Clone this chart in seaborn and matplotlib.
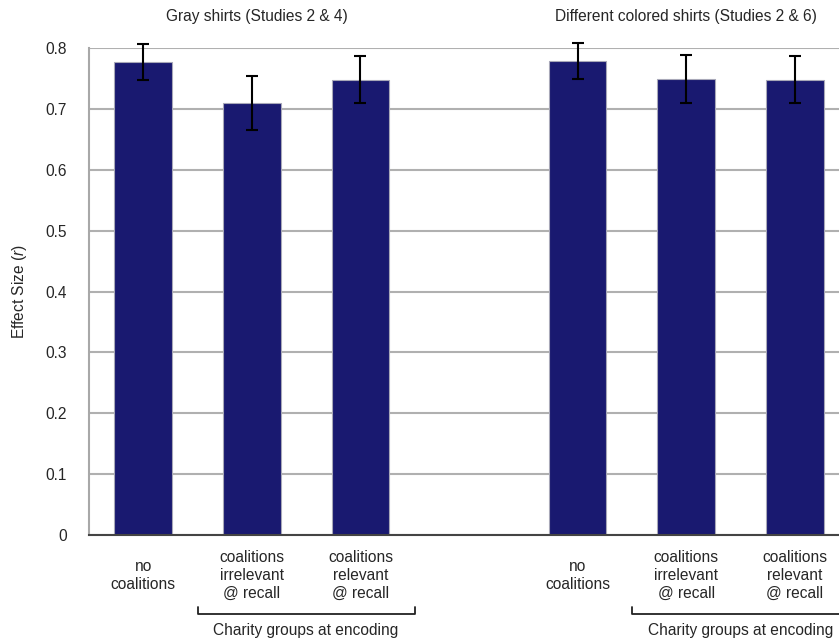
import numpy as np
import seaborn as sns
import matplotlib.pyplot as plt
import matplotlib.transforms as mtrans
import pandas as pd

# slot 3 is the empty gap between the two studies
slots = [0, 1, 2, 4, 5, 6]
effect = [0.777, 0.710, 0.748, 0.779, 0.749, 0.748]
err = [0.030, 0.044, 0.039, 0.030, 0.039, 0.039]
xlabels = ["no\ncoalitions", "coalitions\nirrelevant\n@ recall", "coalitions\nrelevant\n@ recall", "",
           "no\ncoalitions", "coalitions\nirrelevant\n@ recall", "coalitions\nrelevant\n@ recall"]
yticks = [0, 0.1, 0.2, 0.3, 0.4, 0.5, 0.6, 0.7, 0.8]
yticklabels = ["0", "0.1", "0.2", "0.3", "0.4", "0.5", "0.6", "0.7", "0.8"]
titles = ["Gray shirts (Studies 2 & 4)", "Different colored shirts (Studies 2 & 6)"]
bracket_text = "Charity groups at encoding"

df = pd.DataFrame({"slot": slots, "effect": effect})

sns.set_style("white")
plt.rcParams['font.family'] = ['Liberation Sans', 'DejaVu Sans']
plt.rcParams['mathtext.fontset'] = 'custom'
plt.rcParams['mathtext.it'] = 'Liberation Sans:italic'
plt.rcParams['mathtext.rm'] = 'Liberation Sans'
fs = 11.2

fig = plt.figure(figsize=(8.39, 6.4), dpi=100)
ax = fig.add_axes([0.106, 0.164, 0.906, 0.761])

sns.barplot(data=df, x="slot", y="effect", order=list(range(7)), color="#191970",
            saturation=1, width=0.53, edgecolor="#a8a8b8", linewidth=0.8, errorbar=None, ax=ax)
eb = ax.errorbar(slots, effect, yerr=err, fmt='none', ecolor='black', elinewidth=1.5,
                 capsize=4, capthick=1.5, zorder=5)
for art in list(eb.lines[1]) + list(eb.lines[2]):
    art.set_clip_on(False)

ax.set_xlim(-0.5, 6.5)
ax.set_ylim(0, 0.8)
ax.set_yticks(yticks)
ax.set_yticklabels(yticklabels, fontsize=fs)
ax.yaxis.grid(True, color="#b0b0b0", lw=1.5)
ax.set_axisbelow(True)
ax.tick_params(axis='y', length=6, width=1.2, color="#a0a0a0", pad=10)

ax.set_xticks(range(7))
ax.set_xticklabels(xlabels, fontsize=fs, linespacing=1.25)
ax.set_xticks(np.arange(-0.5, 6.0, 1.0), minor=True)
ax.tick_params(axis='x', which='major', length=0, pad=29)
ax.tick_params(axis='x', which='minor', length=5, width=1.5, color="#333333")
for lab in ax.get_xticklabels():
    lab.set_verticalalignment('center')
ax.set_xlabel("")
ax.set_ylabel("Effect Size ($\\mathit{r}$)", fontsize=fs, labelpad=12)

for side in ["top", "right"]:
    ax.spines[side].set_visible(False)
ax.spines["left"].set_color("#a8a8a8")
ax.spines["left"].set_linewidth(1.5)
ax.spines["bottom"].set_color("#444444")
ax.spines["bottom"].set_linewidth(1.5)

trans = mtrans.blended_transform_factory(ax.transData, ax.transAxes)
ax.text(1.05, 1.064, titles[0], transform=trans, ha='center', va='center', fontsize=fs)
ax.text(5.0, 1.064, titles[1], transform=trans, ha='center', va='center', fontsize=fs)

for x0, x1 in [(0.5, 2.5), (4.5, 6.5)]:
    ax.plot([x0, x0, x1, x1], [-0.148, -0.162, -0.162, -0.148], transform=trans,
            color="#222222", lw=1.3, clip_on=False)
    ax.text((x0 + x1) / 2, -0.196, bracket_text, transform=trans, ha='center', va='center', fontsize=fs)

fig.savefig("out.png", dpi=100)
